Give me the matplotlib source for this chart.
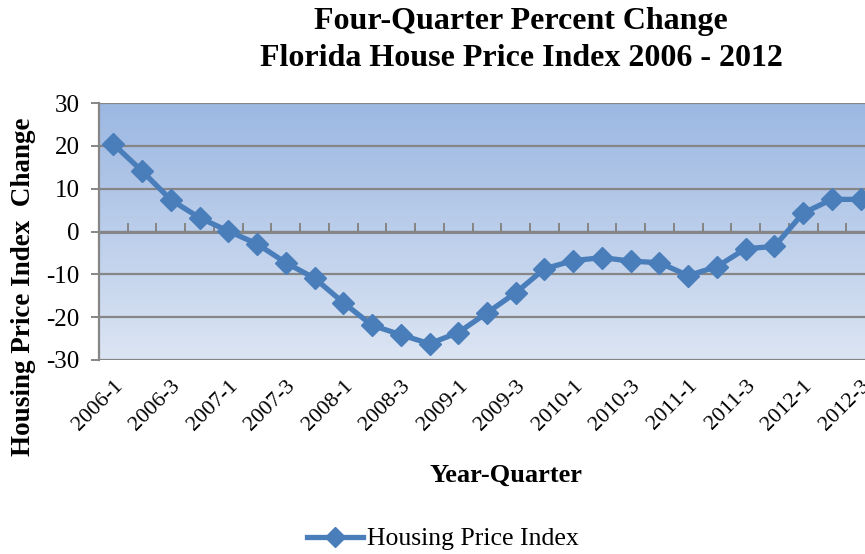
import numpy as np
import matplotlib
matplotlib.use("Agg")
import matplotlib.pyplot as plt
from matplotlib.colors import LinearSegmentedColormap

quarters = [f"{y}-{q}" for y in range(2006, 2013) for q in range(1, 5)][:27]
values = [20.4, 14.1, 7.4, 3.2, 0.1, -2.9, -7.3, -10.9, -16.6, -21.9, -24.1, -26.2,
          -23.6, -19.0, -14.3, -8.7, -6.8, -6.1, -6.9, -7.3, -10.3, -8.2, -4.0, -3.5,
          4.3, 7.5, 7.5]
yticks = [-30, -20, -10, 0, 10, 20, 30]
series_name = "Housing Price Index"

serif = ["Liberation Serif", "DejaVu Serif"]
plt.rcParams['font.family'] = serif

W, H = 865, 554
fig = plt.figure(figsize=(W / 100, H / 100), dpi=100)
L, R, T, B = 99, 875, 103, 360
ax = fig.add_axes([L / W, 1 - B / H, (R - L) / W, (B - T) / H])

n = len(values)
x = np.arange(n)
ax.set_xlim(-0.5, n - 0.5)
ax.set_ylim(-30, 30)

# gradient background
cmap = LinearSegmentedColormap.from_list("bg", ["#dce5f3", "#9bb7e2"])
grad = np.linspace(0, 1, 256).reshape(-1, 1)
ax.imshow(grad, cmap=cmap, aspect="auto", origin="lower",
          extent=(-0.5, n - 0.5, -30, 30), zorder=0)

grid_c = "#868686"
for yv in yticks:
    ax.axhline(yv, color=grid_c, lw=1.6 if yv != 0 else 2.2, zorder=1)

line_c = "#4a7ebb"
ax.plot(x, values, color=line_c, lw=3.8, marker="D", markersize=11.5,
        markeredgecolor=line_c, markerfacecolor=line_c, zorder=3,
        label=series_name, clip_on=False)

for s in ["top", "right", "bottom"]:
    ax.spines[s].set_visible(False)
ax.spines["left"].set_color(grid_c)
ax.spines["left"].set_linewidth(1.6)

ax.set_yticks(yticks)
ax.set_yticklabels([str(v) for v in yticks])
ax.tick_params(axis="y", direction="out", length=6, width=1.4, color=grid_c,
               labelsize=18, pad=8)

ax.set_xticks(x[::2])
ax.set_xticklabels(quarters[::2], rotation=45, ha="right", va="top",
                   rotation_mode="anchor", fontsize=16)
ax.tick_params(axis="x", length=0, pad=12)

# tick marks on the zero axis
sec = ax.secondary_xaxis(0.5)
sec.set_xticks(np.arange(0.5, n - 1, 1.0))
sec.set_xticklabels([])
sec.tick_params(direction="out", length=6, width=1.4, color=grid_c)
sec.spines["bottom"].set_visible(False)

fig.text(521 / W, 1 - 22 / H, "Four-Quarter Percent Change", ha="center",
         va="center", fontsize=23, fontweight="bold")
fig.text(521 / W, 1 - 58 / H, "Florida House Price Index 2006 - 2012",
         ha="center", va="center", fontsize=23, fontweight="bold")
fig.text(24 / W, 1 - 287 / H, "Housing Price Index  Change", rotation=90,
         ha="center", va="center", fontsize=19.5, fontweight="bold")
fig.text(506 / W, 1 - 475 / H, "Year-Quarter", ha="center", va="center",
         fontsize=19, fontweight="bold")

fig.legend(loc="center", bbox_to_anchor=(443 / W, 1 - 539 / H), frameon=False,
           fontsize=18.5, handlelength=2.2, handletextpad=0.15, markerscale=0.9,
           borderpad=0.1)

fig.savefig("out.png", dpi=100)
